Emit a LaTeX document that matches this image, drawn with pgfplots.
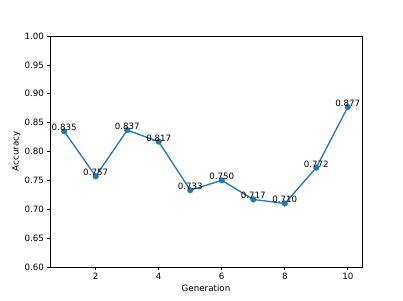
\documentclass[border=0pt]{standalone}
\usepackage{fontspec}
\setmainfont{DejaVu Sans}
\usepackage{pgfplots}
\pgfplotsset{compat=1.18}
\definecolor{mplblue}{HTML}{1F77B4}
\begin{document}
\fontsize{8.7pt}{10pt}\selectfont
\begin{tikzpicture}[x=1pt,y=1pt]
\path (-50,-33) rectangle (353,267);
\begin{axis}[
  at={(0,0)}, anchor=south west,
  scale only axis, width=312pt, height=231pt,
  xmin=0.55, xmax=10.45, ymin=0.6, ymax=1.0,
  xtick={2,4,6,8,10},
  ytick={0.60,0.65,0.70,0.75,0.80,0.85,0.90,0.95,1.00},
  yticklabel style={/pgf/number format/.cd, fixed, zerofill, precision=2},
  /pgf/number format/assume math mode=true,
  tick align=outside, tick pos=left,
  major tick length=3pt,
  every tick/.style={black, line width=0.7pt},
  axis line style={line width=0.7pt},
  ticklabel style={font=\fontsize{8.7pt}{10pt}\selectfont},
  xlabel={Generation}, ylabel={Accuracy},
  label style={font=\fontsize{8.7pt}{10pt}\selectfont},
  xlabel style={yshift=1pt},
  ylabel style={yshift=-2pt},
  nodes near coords={\pgfmathprintnumber[fixed, zerofill, precision=3]{\pgfplotspointmeta}},
  every node near coord/.append style={anchor=base, inner sep=0pt, yshift=0.5pt, black, font=\fontsize{8.7pt}{10pt}\selectfont},
]
\addplot[color=mplblue, line width=1.3pt, mark=*, mark size=2.8pt, mark options={solid, fill=mplblue, draw=mplblue, line width=0.4pt}]
coordinates {
(1,0.835) (2,0.757) (3,0.837) (4,0.817) (5,0.733)
(6,0.750) (7,0.717) (8,0.710) (9,0.772) (10,0.877)
};
\end{axis}
\end{tikzpicture}
\end{document}
